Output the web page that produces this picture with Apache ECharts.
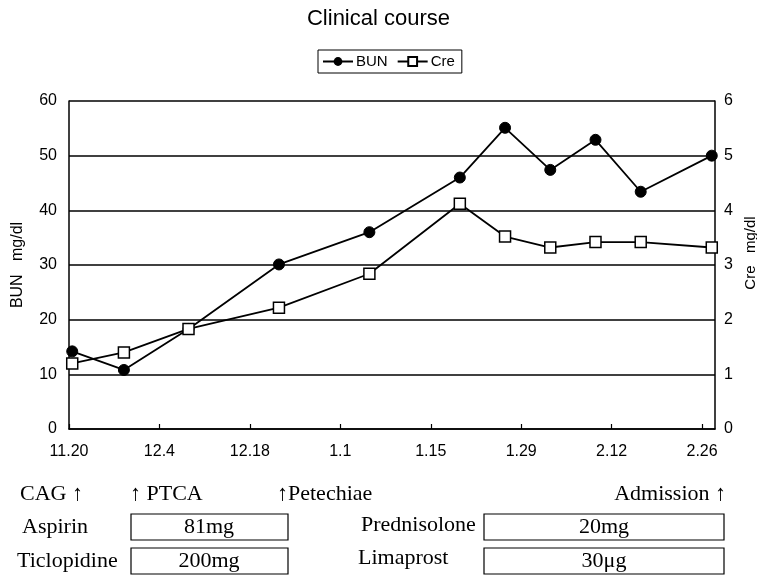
<!DOCTYPE html>
<html>
<head>
<meta charset="utf-8">
<script src="https://cdn.jsdelivr.net/npm/echarts@6/dist/echarts.min.js"></script>
<style>
html,body{margin:0;padding:0;background:#fff;}
#chart{width:757px;height:577px;}
</style>
</head>
<body>
<div id="chart"></div>
<script>
// Day offsets from 11.20 (Excel date axis; each point centred in its day band)
const days = [0, 8, 18, 32, 46, 60, 67, 74, 81, 88, 99];
const bun = [14.2, 10.8, 18.3, 30.1, 36.0, 46.0, 55.1, 47.4, 52.9, 43.4, 50.0];
const cre = [1.2, 1.4, 1.83, 2.22, 2.84, 4.12, 3.52, 3.32, 3.42, 3.42, 3.32];
const xTickLabels = ['11.20', '12.4', '12.18', '1.1', '1.15', '1.29', '2.12', '2.26'];
const seriesNames = ['BUN', 'Cre'];

const sans = '"Liberation Sans", Arial, sans-serif';
const serif = '"Liberation Serif", "Times New Roman", serif';

const chart = echarts.init(document.getElementById('chart'), null, {renderer: 'canvas'});

function txt(text, x, y, align) {
  return {
    type: 'text', x: x, y: y,
    style: {text: text, fill: '#000', font: '22px ' + serif, textAlign: align || 'left', textVerticalAlign: 'middle'}
  };
}
function box(x, y, w, h) {
  return {type: 'rect', shape: {x: x, y: y, width: w, height: h}, style: {fill: 'none', stroke: '#000', lineWidth: 1.2}};
}

const option = {
  backgroundColor: '#fff',
  animation: false,
  title: {
    text: 'Clinical course', left: 'center', top: 3,
    textStyle: {fontFamily: sans, fontSize: 22, fontWeight: 'normal', color: '#000'}
  },
  legend: {
    data: seriesNames, left: 318, top: 50,
    borderColor: '#000', borderWidth: 1, padding: [4, 7, 4, 4],
    itemGap: 9, itemWidth: 30, itemHeight: 11,
    textStyle: {fontFamily: sans, fontSize: 15, color: '#000', padding: [0, 0, 0, -2]}
  },
  grid: {left: 69, right: 42, top: 101, bottom: 148, containLabel: false, outerBoundsMode: 'none'},
  xAxis: {
    type: 'value', min: 0, max: 100, interval: 14,
    axisLine: {lineStyle: {color: '#000', width: 1.5}},
    axisTick: {inside: true, length: 5, lineStyle: {color: '#000', width: 1.2}},
    splitLine: {show: false},
    axisLabel: {
      showMaxLabel: false, margin: 15,
      fontFamily: sans, fontSize: 16, color: '#000',
      formatter: function (v) { return v % 14 === 0 ? (xTickLabels[v / 14] || '') : ''; }
    }
  },
  yAxis: [
    {
      type: 'value', min: 0, max: 60, interval: 10, position: 'left',
      name: 'BUN   mg/dl', nameLocation: 'middle', nameGap: 43, nameRotate: 90,
      nameTextStyle: {fontFamily: sans, fontSize: 16, color: '#000'},
      axisLine: {show: true, lineStyle: {color: '#000', width: 1.5}},
      axisTick: {show: false},
      splitLine: {show: true, lineStyle: {color: '#000', width: 1.5}},
      axisLabel: {margin: 12, fontFamily: sans, fontSize: 16, color: '#000'}
    },
    {
      type: 'value', min: 0, max: 6, interval: 1, position: 'right',
      name: 'Cre   mg/dl', nameLocation: 'middle', nameGap: 20, nameRotate: 90,
      nameTextStyle: {fontFamily: sans, fontSize: 15, color: '#000', padding: [0, 0, 0, 24]},
      axisLine: {show: true, lineStyle: {color: '#000', width: 1.5}},
      axisTick: {show: false},
      splitLine: {show: false},
      axisLabel: {margin: 9, fontFamily: sans, fontSize: 16, color: '#000'}
    }
  ],
  series: [
    {
      name: seriesNames[0], type: 'line', yAxisIndex: 0,
      data: days.map((d, i) => [d + 0.5, bun[i]]),
      symbol: 'circle', symbolSize: 11,
      lineStyle: {color: '#000', width: 1.8},
      itemStyle: {color: '#000', borderColor: '#000'},
      z: 3
    },
    {
      name: seriesNames[1], type: 'line', yAxisIndex: 1,
      data: days.map((d, i) => [d + 0.5, cre[i]]),
      symbol: 'rect', symbolSize: 11,
      lineStyle: {color: '#000', width: 1.8},
      itemStyle: {color: '#fff', borderColor: '#000', borderWidth: 1.5},
      z: 4
    }
  ],
  graphic: [
    txt('CAG \u2191', 20, 494),
    txt('\u2191 PTCA', 130, 494),
    txt('\u2191Petechiae', 277, 494),
    txt('Admission \u2191', 726, 494, 'right'),
    txt('Aspirin', 22, 527),
    box(131, 514, 157, 26),
    txt('81mg', 209, 527, 'center'),
    txt('Prednisolone', 361, 525),
    box(484, 514, 240, 26),
    txt('20mg', 604, 527, 'center'),
    txt('Ticlopidine', 17, 561),
    box(131, 548, 157, 26),
    txt('200mg', 209, 561, 'center'),
    txt('Limaprost', 358, 558),
    box(484, 548, 240, 26),
    txt('30\u03bcg', 604, 561, 'center')
  ]
};
chart.setOption(option);
</script>
</body>
</html>
